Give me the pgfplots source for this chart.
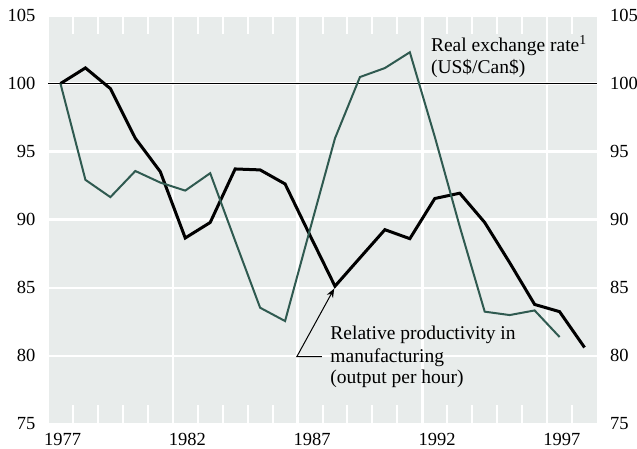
\documentclass[border=0pt]{standalone}
\usepackage{fontspec}
\setmainfont{Liberation Serif}
\usepackage{pgfplots}
\usepackage{pgfplotstable}
\pgfplotsset{compat=1.18}
\usetikzlibrary{arrows.meta}
\definecolor{bgc}{HTML}{E8ECEB}
\definecolor{grn}{HTML}{2F5A50}
\newcommand{\tickfont}{\fontsize{18.5}{20}\selectfont}
\newcommand{\anfont}{\fontsize{19.5}{21.5}\selectfont}

\pgfplotstableread{
year prod
1977.5 100.0
1978.5 101.15
1979.5 99.63
1980.5 95.98
1981.5 93.53
1982.5 88.66
1983.5 89.80
1984.5 93.73
1985.5 93.66
1986.5 92.63
1987.5 88.85
1988.5 85.12
1989.5 87.2
1990.5 89.27
1991.5 88.61
1992.5 91.56
1993.5 91.95
1994.5 89.80
1995.5 86.85
1996.5 83.78
1997.5 83.25
1998.5 80.62
}\prod

\pgfplotstableread{
year exch
1977.5 100.0
1978.5 92.93
1979.5 91.66
1980.5 93.58
1981.5 92.73
1982.5 92.14
1983.5 93.42
1984.5 88.45
1985.5 83.54
1986.5 82.56
1987.5 89.3
1988.5 95.98
1989.5 100.48
1990.5 101.14
1991.5 102.30
1992.5 96.09
1993.5 89.5
1994.5 83.25
1995.5 83.00
1996.5 83.34
1997.5 81.39
}\exch

\pgfplotstableread{
yr hi
1978 76.4
1979 76.4
1980 76.4
1981 76.4
1983 76.4
1984 76.4
1985 76.4
1986 76.4
1988 76.4
1989 76.4
1990 76.4
1991 76.4
1993 76.4
1994 76.4
1995 76.4
1996 76.4
1998 76.4
}\tickrows

\begin{document}
\begin{tikzpicture}
\path[use as bounding box] (0,0) rectangle (637pt,449pt);
\begin{axis}[
  at={(48pt,25pt)}, anchor=south west,
  width=549pt, height=408.5pt, scale only axis,
  xmin=1977, xmax=1999, ymin=75, ymax=105,
  axis background/.style={fill=bgc},
  axis line style={draw=none},
  tick style={draw=none},
  /pgf/number format/assume math mode=true,
  xtick={1977,1982,1987,1992,1997},
  xticklabels={1977,1982,1987,1992,1997},
  xticklabel style={anchor=north west, inner sep=0pt, xshift=-4pt, yshift=-9pt, font=\tickfont},
  xmajorgrids,
  ytick={75,80,85,90,95,100,105},
  ymajorgrids,
  major grid style={white, line width=2.5pt},
  yticklabel style={anchor=east, inner sep=0pt, xshift=-12.5pt, font=\tickfont},
]
\addplot[black, line width=1pt] coordinates {(1977,100) (1999,100)};
% small white tick marks at the bottom edge
\addplot[white, line width=2pt, mark=none, ycomb] table[x=yr, y=hi] {\tickrows};
\addplot[black, line width=3pt, line join=miter] table[x=year, y=prod] {\prod};
\addplot[grn, line width=2pt, line join=miter] table[x=year, y=exch] {\exch};

\node[anchor=base west, inner sep=0pt, font=\anfont] at (axis cs:1992.34,102.34) {Real exchange rate\textsuperscript{1}};
\node[anchor=base west, inner sep=0pt, font=\anfont] at (axis cs:1992.34,100.76) {(US\$/Can\$)};
\node[anchor=base west, inner sep=0pt, font=\anfont] at (axis cs:1988.31,81.17) {Relative productivity in};
\node[anchor=base west, inner sep=0pt, font=\anfont] at (axis cs:1988.31,79.53) {manufacturing};
\node[anchor=base west, inner sep=0pt, font=\anfont] at (axis cs:1988.31,77.99) {(output per hour)};
\draw[black, line width=1pt, -{Stealth[length=9pt, width=7pt]}] (axis cs:1987.97,79.94) -- (axis cs:1986.97,79.94) -- (axis cs:1988.47,84.95);
\end{axis}
% small white tick marks at the top edge
\begin{axis}[
  at={(48pt,433.5pt)}, anchor=north west,
  width=549pt, height=19pt, scale only axis,
  xmin=1977, xmax=1999, ymin=0, ymax=1,
  hide axis, clip=false,
]
\addplot[white, line width=2pt, ycomb, mark=none] coordinates {
(1978,1) (1979,1) (1980,1) (1981,1) (1983,1) (1984,1) (1985,1) (1986,1)
(1988,1) (1989,1) (1990,1) (1991,1) (1993,1) (1994,1) (1995,1) (1996,1) (1998,1)};
\end{axis}
\begin{axis}[
  at={(48pt,25pt)}, anchor=south west,
  width=549pt, height=408.5pt, scale only axis,
  xmin=1977, xmax=1999, ymin=75, ymax=105,
  hide x axis,
  axis y line*=right,
  axis line style={draw=none},
  /pgf/number format/assume math mode=true,
  ytick={75,80,85,90,95,100,105},
  ytick style={draw=none},
  yticklabel style={anchor=west, inner sep=0pt, xshift=13pt, font=\tickfont},
]
\end{axis}
\end{tikzpicture}
\end{document}
